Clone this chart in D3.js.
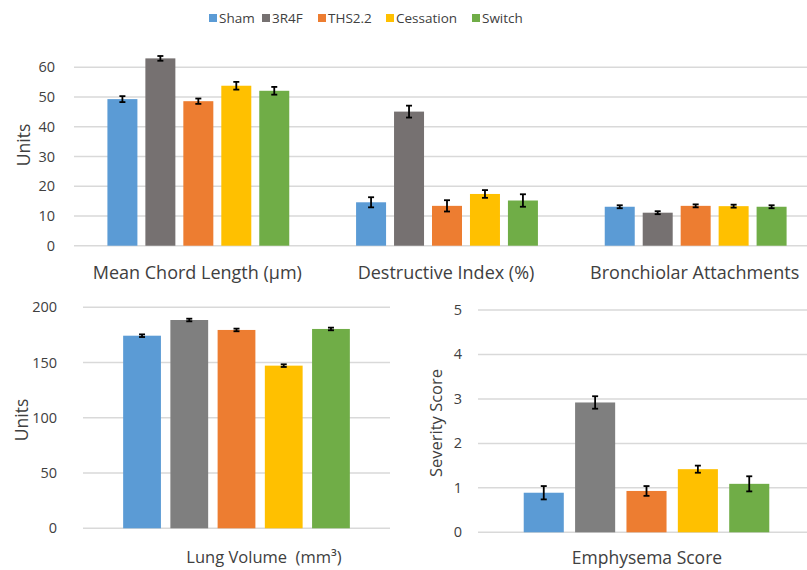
<!DOCTYPE html>
<html>
<head>
<meta charset="utf-8">
<script src="https://cdnjs.cloudflare.com/ajax/libs/d3/7.8.5/d3.min.js"></script>
<style>
  body { margin: 0; background: #fff; }
  svg text { font-family: "Open Sans", Lato, sans-serif; fill: #404040; white-space: pre; }
</style>
</head>
<body>
<svg id="chart" width="807" height="570"></svg>
<script>
// Data
const series = ["Sham", "3R4F", "THS2.2", "Cessation", "Switch"];
const colorsTop = ["#5b9bd5", "#767171", "#ed7d31", "#ffc000", "#70ad47"];
const colorsBottom = ["#5b9bd5", "#7f7f7f", "#ed7d31", "#ffc000", "#70ad47"];

const topGroups = ["Mean Chord Length (µm)", "Destructive Index (%)", "Bronchiolar Attachments"];
const topValues = [
  [49.3, 63.0, 48.6, 53.8, 52.1],
  [14.6, 45.1, 13.4, 17.4, 15.2],
  [13.1, 11.1, 13.4, 13.3, 13.1]
];
const topErrors = [
  [1.0, 0.8, 0.9, 1.3, 1.3],
  [1.7, 2.0, 1.9, 1.3, 2.1],
  [0.5, 0.5, 0.5, 0.5, 0.5]
];
const topTicks = [0, 10, 20, 30, 40, 50, 60];

const lungValues = [174.3, 188.5, 179.5, 147.2, 180.4];
const lungErrors = [1.2, 1.2, 1.2, 1.2, 1.2];
const lungTicks = [0, 50, 100, 150, 200];

const emphValues = [0.89, 2.92, 0.93, 1.42, 1.09];
const emphErrors = [0.15, 0.14, 0.11, 0.08, 0.17];
const emphTicks = [0, 1, 2, 3, 4, 5];

const svg = d3.select("#chart");

// Legend
const legendX = [209, 262, 318, 386, 472];
const legend = svg.append("g");
series.forEach((s, i) => {
  legend.append("rect")
    .attr("x", legendX[i]).attr("y", 14)
    .attr("width", 8).attr("height", 8)
    .attr("fill", colorsTop[i]);
  legend.append("text")
    .attr("x", legendX[i] + 10).attr("y", 23)
    .attr("font-size", 13.5)
    .text(s);
});

// helper to draw grid + y tick labels
function drawGrid(g, y, ticks, x0, x1, labelX) {
  g.selectAll(".grid").data(ticks).enter().append("line")
    .attr("x1", x0).attr("x2", x1)
    .attr("y1", d => y(d)).attr("y2", d => y(d))
    .attr("stroke", "#d9d9d9").attr("stroke-width", 1.5);
  g.selectAll(".tick-label").data(ticks).enter().append("text")
    .attr("x", labelX).attr("y", d => y(d) + 5)
    .attr("text-anchor", "end")
    .attr("font-size", 14.5)
    .text(d => d);
}

function drawBars(g, data, errs, x, y, colors) {
  g.selectAll(".bar").data(data).enter().append("rect")
    .attr("x", (d, i) => x(series[i]))
    .attr("y", d => y(d))
    .attr("width", x.bandwidth())
    .attr("height", d => y(0) - y(d))
    .attr("fill", (d, i) => colors[i]);
  const eb = g.selectAll(".err").data(data).enter().append("g")
    .attr("stroke", "#000").attr("stroke-width", 1.8);
  eb.append("line")
    .attr("x1", (d, i) => x(series[i]) + x.bandwidth() / 2)
    .attr("x2", (d, i) => x(series[i]) + x.bandwidth() / 2)
    .attr("y1", (d, i) => y(d + errs[i]))
    .attr("y2", (d, i) => y(d - errs[i]));
  ["+", "-"].forEach(sign => {
    eb.append("line")
      .attr("x1", (d, i) => x(series[i]) + x.bandwidth() / 2 - 3)
      .attr("x2", (d, i) => x(series[i]) + x.bandwidth() / 2 + 3)
      .attr("y1", (d, i) => y(sign === "+" ? d + errs[i] : d - errs[i]))
      .attr("y2", (d, i) => y(sign === "+" ? d + errs[i] : d - errs[i]));
  });
}

// Top chart
const yTop = d3.scaleLinear().domain([0, 60]).range([245.7, 67.3]);
const x0Top = d3.scaleBand().domain(topGroups).range([74, 820]);
const topG = svg.append("g");
drawGrid(topG, yTop, topTicks, 74, 807, 55);
topGroups.forEach((grp, gi) => {
  const x1 = d3.scaleBand().domain(series)
    .range([x0Top(grp), x0Top(grp) + x0Top.bandwidth()])
    .paddingInner(0.21).paddingOuter(0.88);
  drawBars(topG.append("g"), topValues[gi], topErrors[gi], x1, yTop, colorsTop);
  topG.append("text")
    .attr("x", x0Top(grp) + x0Top.bandwidth() / 2 - 1)
    .attr("y", 279)
    .attr("text-anchor", "middle")
    .attr("font-size", 18)
    .text(grp);
});
topG.append("text")
  .attr("transform", "translate(30,145) rotate(-90)")
  .attr("text-anchor", "middle")
  .attr("font-size", 17.5)
  .text("Units");

// Bottom-left chart: Lung Volume
const yLung = d3.scaleLinear().domain([0, 200]).range([528.3, 307.3]);
const xLung = d3.scaleBand().domain(series).range([83, 390])
  .paddingInner(0.2).paddingOuter(0.85);
const lungG = svg.append("g");
drawGrid(lungG, yLung, lungTicks, 83, 390, 57);
drawBars(lungG, lungValues, lungErrors, xLung, yLung, colorsBottom);
lungG.append("text")
  .attr("transform", "translate(28,420) rotate(-90)")
  .attr("text-anchor", "middle")
  .attr("font-size", 17.5)
  .text("Units");
lungG.append("text")
  .attr("x", 264).attr("y", 563)
  .attr("text-anchor", "middle")
  .attr("font-size", 16.5)
  .text("Lung Volume  (mm³)");

// Bottom-right chart: Emphysema Score
const yEmph = d3.scaleLinear().domain([0, 5]).range([532.3, 310]);
const xEmph = d3.scaleBand().domain(series).range([478, 815])
  .paddingInner(0.22).paddingOuter(0.89);
const emphG = svg.append("g");
drawGrid(emphG, yEmph, emphTicks, 478, 807, 462);
drawBars(emphG, emphValues, emphErrors, xEmph, yEmph, colorsBottom);
emphG.append("text")
  .attr("transform", "translate(442,423) rotate(-90)")
  .attr("text-anchor", "middle")
  .attr("font-size", 16.5)
  .text("Severity Score");
emphG.append("text")
  .attr("x", 647).attr("y", 564)
  .attr("text-anchor", "middle")
  .attr("font-size", 17.5)
  .text("Emphysema Score");
</script>
</body>
</html>
